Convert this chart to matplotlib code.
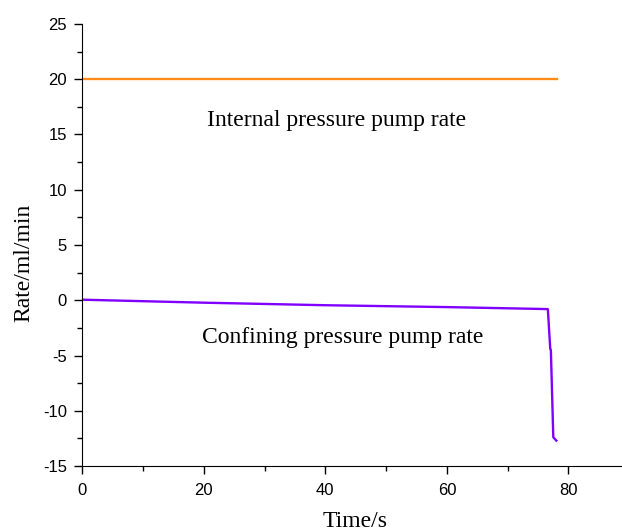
import matplotlib
matplotlib.use('Agg')
import matplotlib.pyplot as plt
from matplotlib.ticker import MultipleLocator

plt.rcParams['axes.unicode_minus'] = False

# Internal pressure pump rate (constant)
internal_t = [0, 78.1]
internal_rate = [20, 20]

# Confining pressure pump rate
confining_t = [0, 20, 40, 60, 76.6, 77.0, 77.1, 77.5, 78.0]
confining_rate = [0.05, -0.22, -0.45, -0.62, -0.8, -4.4, -4.5, -12.4, -12.7]

fig = plt.figure(figsize=(6.22, 5.32), dpi=100)
ax = fig.add_axes([0.132, 0.124, 0.868, 0.831])

ax.plot(internal_t, internal_rate, color='#FF8C1A', lw=1.7)
ax.plot(confining_t, confining_rate, color='#8000FF', lw=1.7)

ax.text(41.8, 16.3, 'Internal pressure pump rate', family='Liberation Serif',
        fontsize=17, ha='center', va='center')
ax.text(42.8, -3.4, 'Confining pressure pump rate', family='Liberation Serif',
        fontsize=17, ha='center', va='center')

ax.set_xlim(0, 88.8)
ax.set_ylim(-15, 25)
ax.xaxis.set_major_locator(MultipleLocator(20))
ax.xaxis.set_minor_locator(MultipleLocator(10))
ax.yaxis.set_major_locator(MultipleLocator(5))
ax.yaxis.set_minor_locator(MultipleLocator(2.5))

for s in ['top', 'right']:
    ax.spines[s].set_visible(False)
ax.tick_params(which='both', direction='out', width=1)
ax.tick_params(which='major', length=6, labelsize=12)
ax.tick_params(which='minor', length=3.5)
ax.tick_params(axis='x', which='major', pad=6)
ax.tick_params(axis='y', which='major', pad=5)
for lab in ax.get_xticklabels() + ax.get_yticklabels():
    lab.set_family('Liberation Sans')

ax.set_xlabel('Time/s', family='Liberation Serif', fontsize=17)
ax.set_ylabel('Rate/ml/min', family='Liberation Serif', fontsize=17)
ax.xaxis.set_label_coords(0.506, -0.102)
ax.yaxis.set_label_coords(-0.088, 0.46)

fig.savefig('out.png', dpi=100)
